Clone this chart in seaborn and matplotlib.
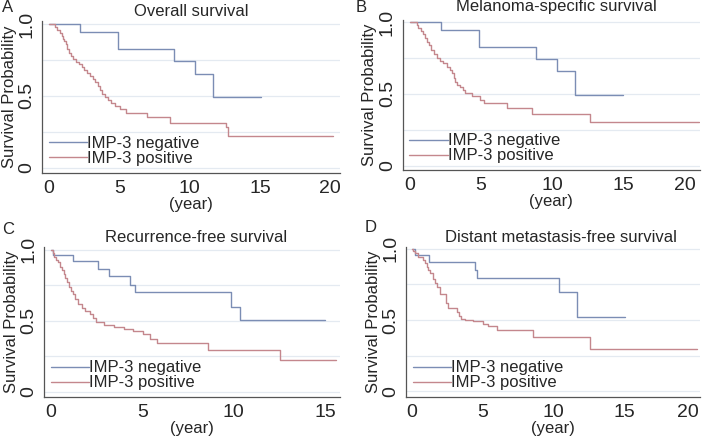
import pandas as pd
import seaborn as sns
import matplotlib.pyplot as plt
from matplotlib.transforms import ScaledTranslation

GROUPS = ["IMP-3 negative", "IMP-3 positive"]
COLORS = ["#7b8db4", "#c4878d"]

# A: overall survival (years, survival probability; last point = end of follow-up)
a_neg_t = [0, 2.2, 4.9, 8.9, 10.4, 11.7, 15.1]
a_neg_s = [1.0, 0.944, 0.83, 0.742, 0.654, 0.49, 0.49]
a_pos_t = [0, 0.45, 0.6, 0.75, 0.9, 1.0, 1.1, 1.2, 1.3, 1.45, 1.55, 1.7, 1.9, 2.1,
           2.35, 2.5, 2.7, 2.95, 3.15, 3.3, 3.45, 3.6, 3.75, 3.95, 4.2, 4.4, 4.7,
           5.05, 5.5, 6.95, 8.6, 12.6, 12.75, 20.2]
a_pos_s = [1.0, 0.98, 0.96, 0.94, 0.92, 0.90, 0.88, 0.86, 0.83, 0.80, 0.78, 0.76,
           0.74, 0.72, 0.70, 0.68, 0.66, 0.64, 0.62, 0.60, 0.57, 0.54, 0.51, 0.49,
           0.47, 0.45, 0.43, 0.41, 0.38, 0.35, 0.31, 0.28, 0.223, 0.223]

# B: melanoma-specific survival
b_neg_t = [0, 2.2, 4.85, 8.85, 10.35, 11.6, 15.0]
b_neg_s = [1.0, 0.944, 0.826, 0.743, 0.657, 0.49, 0.49]
b_pos_t = [0, 0.47, 0.6, 0.75, 0.9, 1.05, 1.2, 1.35, 1.5, 1.7, 1.88, 2.1, 2.35,
           2.6, 2.8, 2.95, 3.1, 3.2, 3.3, 3.5, 3.7, 3.87, 4.35, 4.9, 5.2, 6.8,
           8.6, 12.65, 20.3]
b_pos_s = [1.0, 0.98, 0.96, 0.94, 0.92, 0.89, 0.865, 0.84, 0.81, 0.78, 0.75,
           0.73, 0.715, 0.69, 0.665, 0.645, 0.61, 0.585, 0.565, 0.545, 0.525,
           0.507, 0.485, 0.46, 0.435, 0.40, 0.363, 0.303, 0.303]

# C: recurrence-free survival
c_neg_t = [0, 0.1, 1.2, 2.6, 3.2, 4.33, 4.6, 9.85, 10.34, 15.0]
c_neg_s = [1.0, 0.96, 0.918, 0.862, 0.812, 0.755, 0.70, 0.60, 0.503, 0.503]
c_pos_t = [0, 0.1, 0.2, 0.3, 0.4, 0.5, 0.6, 0.7, 0.8, 0.9, 1.0, 1.1, 1.2, 1.33,
           1.5, 1.7, 1.9, 2.15, 2.3, 2.45, 2.9, 3.45, 4.0, 4.5, 5.05, 5.4, 5.8,
           8.6, 12.5, 15.6]
c_pos_s = [1.0, 0.98, 0.95, 0.93, 0.91, 0.88, 0.86, 0.83, 0.80, 0.77, 0.74,
           0.71, 0.69, 0.65, 0.62, 0.59, 0.57, 0.55, 0.52, 0.49, 0.47, 0.455,
           0.44, 0.43, 0.41, 0.37, 0.345, 0.296, 0.225, 0.225]

# D: distant metastasis-free survival
d_neg_t = [0, 0.23, 1.24, 4.46, 4.6, 10.37, 11.62, 15.0]
d_neg_s = [1.0, 0.956, 0.909, 0.851, 0.797, 0.699, 0.523, 0.523]
d_pos_t = [0, 0.1, 0.23, 0.47, 0.82, 0.95, 1.05, 1.17, 1.3, 1.52, 1.65, 1.76,
           2.0, 2.4, 2.55, 3.2, 3.3, 3.5, 3.75, 4.3, 5.0, 5.4, 6.0, 8.56, 12.57,
           20.1]
d_pos_s = [1.0, 0.985, 0.968, 0.944, 0.92, 0.90, 0.875, 0.85, 0.83, 0.79, 0.76,
           0.733, 0.68, 0.62, 0.585, 0.555, 0.525, 0.51, 0.50, 0.49, 0.475,
           0.455, 0.43, 0.378, 0.30, 0.30]

panels = [
    ("A", "Overall survival", a_neg_t, a_neg_s, a_pos_t, a_pos_s),
    ("B", "Melanoma-specific survival", b_neg_t, b_neg_s, b_pos_t, b_pos_s),
    ("C", "Recurrence-free survival", c_neg_t, c_neg_s, c_pos_t, c_pos_s),
    ("D", "Distant metastasis-free survival", d_neg_t, d_neg_s, d_pos_t, d_pos_s),
]

# axes box (px), limits, x ticks, shift of last tick label (px), letter / title pos (px)
W, H = 702, 437
layout = {
    "A": dict(rect=(42, 21, 340, 172.7), xlim=(-0.5, 20.7), ylim=(-0.036, 1.023),
              xticks=[0, 5, 10, 15, 20], last_shift=0, letter=(8, 8), title=(191, 11.5)),
    "B": dict(rect=(402.7, 20, 700, 170), xlim=(-0.51, 20.4), ylim=(-0.031, 1.016),
              xticks=[0, 5, 10, 15, 20], last_shift=-9, letter=(361, 8), title=(556, 7)),
    "C": dict(rect=(44.3, 247.3, 340, 397), xlim=(-0.35, 15.8), ylim=(-0.037, 1.017),
              xticks=[0, 5, 10, 15], last_shift=0, letter=(8, 229), title=(196, 237)),
    "D": dict(rect=(406, 247.3, 700, 397), xlim=(-0.4, 20.3), ylim=(-0.04, 1.01),
              xticks=[0, 5, 10, 15, 20], last_shift=-8, letter=(371, 228), title=(561, 238)),
}


def draw_panel(fig, letter, title, neg_t, neg_s, pos_t, pos_s):
    cfg = layout[letter]
    x0, y0, x1, y1 = cfg["rect"]
    ax = fig.add_axes([x0 / W, 1 - y1 / H, (x1 - x0) / W, (y1 - y0) / H])

    df = pd.concat([
        pd.DataFrame({"time": neg_t, "surv": neg_s, "group": GROUPS[0]}),
        pd.DataFrame({"time": pos_t, "surv": pos_s, "group": GROUPS[1]}),
    ])
    sns.lineplot(data=df, x="time", y="surv", hue="group", palette=COLORS,
                 estimator=None, drawstyle="steps-post", linewidth=1.0,
                 legend=False, ax=ax)

    ax.set_xlim(*cfg["xlim"])
    ax.set_ylim(*cfg["ylim"])
    ax.set_xticks(cfg["xticks"])
    ax.set_yticks([0, 0.5, 1.0])
    ax.set_yticklabels(["0", "0.5", "1.0"], rotation=90, va="center")
    ax.set_yticks([0.25, 0.75], minor=True)
    ax.grid(axis="y", which="both", color="#e4eaf1", linewidth=0.9)
    ax.set_axisbelow(True)
    ax.tick_params(axis="both", which="both", direction="out", length=3,
                   width=0.8, color="#555555", labelsize=14, pad=2)
    for side in ["top", "right"]:
        ax.spines[side].set_visible(False)
    for side in ["left", "bottom"]:
        ax.spines[side].set_color("#555555")
        ax.spines[side].set_linewidth(0.9)

    # keep the last x tick label inside the figure, as in the original
    if cfg["last_shift"]:
        lab = ax.get_xticklabels()[-1]
        lab.set_transform(lab.get_transform() +
                          ScaledTranslation(cfg["last_shift"] / 100, 0, fig.dpi_scale_trans))

    ax.set_xlabel("(year)", fontsize=12, labelpad=0)
    ax.set_ylabel("Survival Probability", fontsize=12, labelpad=1)

    ax.legend(ax.get_lines()[:2], GROUPS, loc="lower left", frameon=False,
              fontsize=12, handlelength=2.3, handletextpad=0.0,
              labelspacing=0.0, borderaxespad=0.2, borderpad=0.2)

    lx, ly = cfg["letter"]
    fig.text(lx / W, 1 - ly / H, letter, fontsize=12, ha="center", va="center")
    tx, ty = cfg["title"]
    fig.text(tx / W, 1 - ty / H, title, fontsize=12, ha="center", va="center")


sns.set_style("white")
plt.rcParams["font.family"] = ["Liberation Sans", "DejaVu Sans"]

fig = plt.figure(figsize=(7.02, 4.37), dpi=100)
for letter, title, nt, ns, pt, ps in panels:
    draw_panel(fig, letter, title, nt, ns, pt, ps)

fig.savefig("out.png", dpi=100, facecolor="white")
